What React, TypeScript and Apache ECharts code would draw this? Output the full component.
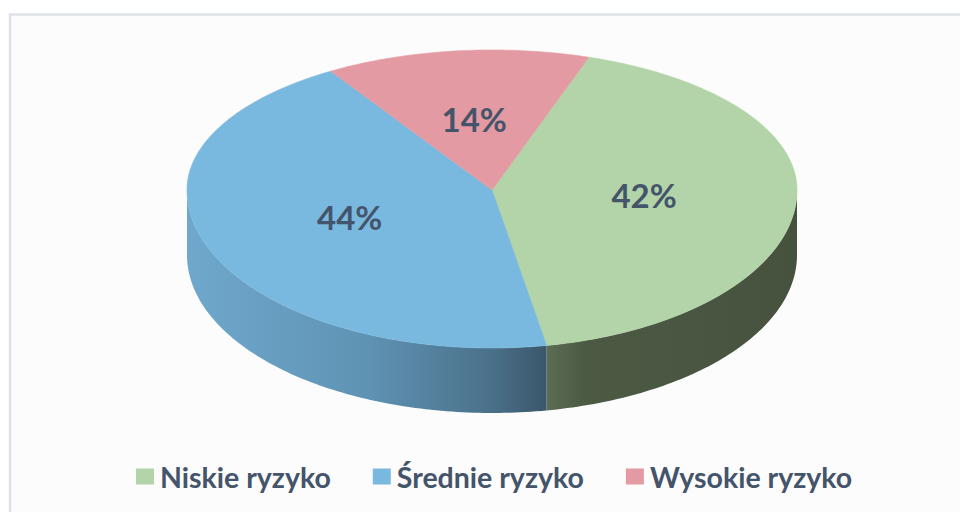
import React, { useEffect, useRef } from "react";
import * as echarts from "echarts";

const categories = ["Niskie ryzyko", "Średnie ryzyko", "Wysokie ryzyko"];
const shares = [42, 44, 14];
const topColors = ["#b2d4a8", "#7ab9df", "#e49aa2"];
const wallStops: [number, string][][] = [
  [[0, "#5c6d53"], [0.15, "#4c5a44"], [1, "#46523e"]],
  [[0, "#6fa8cc"], [0.5, "#5f93b4"], [0.85, "#4a7089"], [1, "#3b566b"]],
  [[0, "#c07a82"], [1, "#8a4c54"]],
];

const START_DEG = 18.5;

export default function App() {
  const ref = useRef<HTMLDivElement>(null);
  useEffect(() => {
    document.body.style.margin = "0";
    const chart = echarts.init(ref.current!, null, { renderer: "svg" });
    const total = shares.reduce((a, b) => a + b, 0);
    const cx = 492, cy = 190, rx = 305, ryT = 140, ryB = 158, depth = 65;
    const rad = (d: number) => (d * Math.PI) / 180;
    const P = (deg: number, r: number, dy = 0) => {
      const c = Math.cos(rad(deg));
      const s = Math.sin(rad(deg));
      return [cx + rx * r * s, cy - (c > 0 ? ryT : ryB) * r * c + dy];
    };
    const arc = (a0: number, a1: number, r: number, dy = 0) => {
      const pts: number[][] = [];
      const n = Math.max(2, Math.ceil(Math.abs(a1 - a0)));
      for (let k = 0; k <= n; k++) pts.push(P(a0 + ((a1 - a0) * k) / n, r, dy));
      return pts;
    };
    const angles = (i: number) => {
      let a = START_DEG;
      for (let j = 0; j < i; j++) a += (shares[j] / total) * 360;
      return [a, a + (shares[i] / total) * 360];
    };

    const series = categories.map((name, i) => ({
      type: "custom",
      name,
      coordinateSystem: "none",
      data: [shares[i]],
      itemStyle: { color: topColors[i] },
      renderItem: () => {
        const [a0, a1] = angles(i);
        const children: any[] = [];
        for (const [lo, hi] of [[90, 270], [450, 630], [-270, -90]]) {
          const s = Math.max(a0, lo);
          const e = Math.min(a1, hi);
          if (e > s) {
            const top = arc(s, e, 1);
            const bot = arc(e, s, 1, depth);
            children.push({
              type: "polygon",
              z2: 1,
              shape: { points: top.concat(bot) },
              style: {
                fill: new echarts.graphic.LinearGradient(
                  0, 0, 1, 0,
                  wallStops[i].map(([o, c]) => ({ offset: o, color: c }))
                ),
                stroke: null,
              },
            });
          }
        }
        children.push({
          type: "polygon",
          z2: 10,
          shape: { points: [[cx, cy]].concat(arc(a0, a1, 1)) },
          style: { fill: topColors[i], stroke: topColors[i], lineWidth: 0.6 },
        });
        const mid = (a0 + a1) / 2;
        const lp = P(mid, 0.5);
        children.push({
          type: "text",
          z2: 20,
          x: lp[0],
          y: lp[1] - 1,
          style: {
            text: Math.round((shares[i] / total) * 100) + "%",
            fill: "#44546a",
            fontSize: 33,
            fontWeight: "bold",
            fontFamily: "Lato",
            align: "center",
            verticalAlign: "middle",
          },
        });
        return { type: "group", children };
      },
    }));

    chart.setOption({
      animation: false,
      backgroundColor: "#ffffff",
      graphic: [
        {
          type: "rect",
          z: -10,
          shape: { x: 10, y: 14.5, width: 960, height: 510 },
          style: { fill: "#fcfcfc", stroke: "#dde2e8", lineWidth: 2.5 },
        },
      ],
      legend: {
        data: categories,
        top: 457,
        left: 131,
        icon: "rect",
        itemWidth: 18,
        itemHeight: 16,
        itemGap: 42,
        textStyle: {
          fontSize: 28.5,
          fontWeight: "bold",
          fontFamily: "Lato",
          color: "#44546a",
          padding: [0, 0, 0, 1],
        },
        selectedMode: false,
      },
      series,
    });
    return () => chart.dispose();
  }, []);
  return <div ref={ref} style={{ width: 960, height: 512 }} />;
}
